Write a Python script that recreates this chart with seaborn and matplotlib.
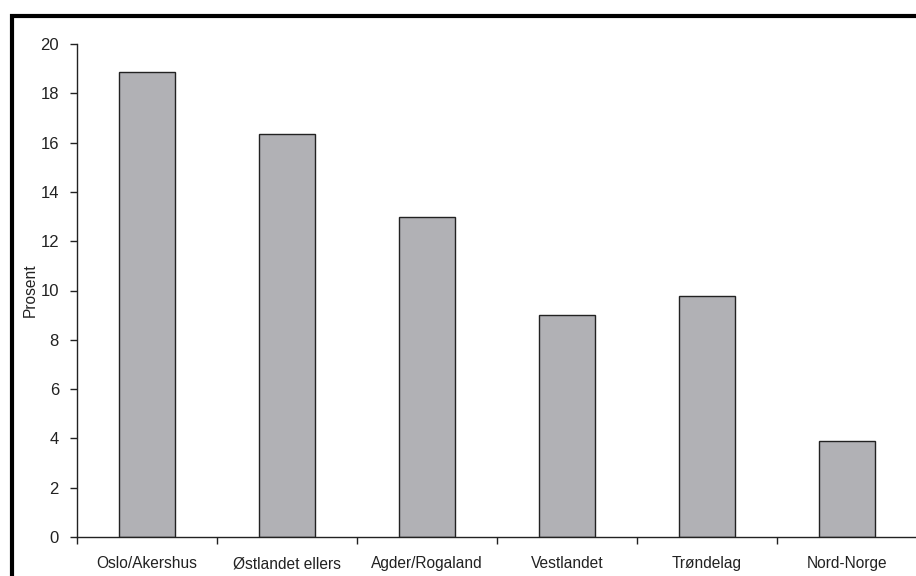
import matplotlib
matplotlib.use("Agg")
import matplotlib.pyplot as plt
import seaborn as sns
import pandas as pd
import numpy as np
from matplotlib.patches import Rectangle

categories = ["Oslo/Akershus", "Østlandet ellers", "Agder/Rogaland", "Vestlandet", "Trøndelag", "Nord-Norge"]
values = [18.85, 16.35, 12.98, 9.0, 9.78, 3.88]
yticks = [0, 2, 4, 6, 8, 10, 12, 14, 16, 18, 20]

sns.set_theme(style="white")
plt.rcParams['font.family'] = ['Liberation Sans Narrow', 'Liberation Sans', 'DejaVu Sans']

df = pd.DataFrame({"region": categories, "prosent": values})

fig = plt.figure(figsize=(9.16, 5.76), dpi=100)
ax = fig.add_axes([77/916, 39/576, 840/916, 493/576])
sns.barplot(data=df, x="region", y="prosent", color="#b1b1b5", saturation=1,
            width=0.4, edgecolor="#222222", linewidth=1.0, ax=ax)

fs = 11.2
ax.set_ylim(0, 20)
ax.set_xlim(-0.5, len(categories) - 0.5)
ax.set_yticks(yticks)
ax.set_yticklabels([str(t) for t in yticks], fontsize=fs + 0.8, color="#222222")
ax.set_xticks(range(len(categories)))
ax.set_xticklabels(categories, fontsize=fs, color="#222222")
ax.set_xticks(np.arange(len(categories) + 1) - 0.5, minor=True)
ax.tick_params(axis="x", which="major", length=0, pad=14)
ax.tick_params(axis="x", which="minor", length=5, width=1, color="#222222", direction="out", bottom=True)
ax.tick_params(axis="y", length=5, width=1, color="#222222", direction="out", left=True, pad=8)
ax.set_xlabel("")
ax.set_ylabel("Prosent", fontsize=fs, color="#222222")
ax.yaxis.set_label_coords(-0.047, 0.5)

for s in ["top", "right"]:
    ax.spines[s].set_visible(False)
for s in ["left", "bottom"]:
    ax.spines[s].set_color("#222222")
    ax.spines[s].set_linewidth(1.0)

fig.patches.append(Rectangle((12/916, -0.2), 1.2, (576 - 16)/576 + 0.2,
                             transform=fig.transFigure, fill=False,
                             edgecolor="black", linewidth=3.0, clip_on=False))

fig.savefig("out.png", dpi=100)
